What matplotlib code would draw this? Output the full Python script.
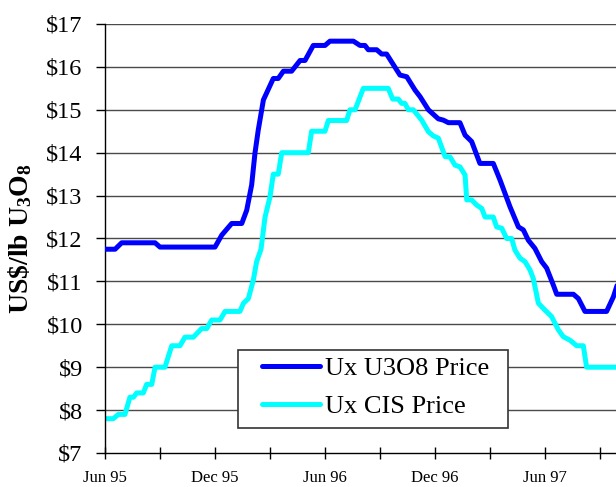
import matplotlib
matplotlib.use("Agg")
import matplotlib.pyplot as plt
from matplotlib.patches import Rectangle

# Months since June 1995
u3o8_months = [0.0, 0.55, 0.91, 2.73, 3.0, 6.0, 6.37, 6.91, 7.46, 7.73, 8.0, 8.18, 8.36, 8.64,
               9.18, 9.45, 9.73, 10.18, 10.64, 10.91, 11.36, 12.0, 12.27, 13.55, 13.91, 14.18,
               14.36, 14.82, 15.09, 15.36, 15.91, 16.09, 16.46, 16.91, 17.18, 17.64, 18.18,
               18.45, 18.73, 19.36, 19.64, 20.0, 20.45, 21.18, 21.55, 22.09, 22.55, 22.82,
               23.09, 23.45, 23.82, 24.09, 24.45, 24.64, 25.55, 25.82, 26.18, 27.36, 27.73, 28.0]
u3o8_price = [11.75, 11.75, 11.9, 11.9, 11.8, 11.8, 12.08, 12.35, 12.35, 12.66, 13.25, 13.99,
              14.53, 15.23, 15.73, 15.73, 15.9, 15.9, 16.15, 16.15, 16.5, 16.5, 16.6, 16.6,
              16.5, 16.5, 16.4, 16.4, 16.3, 16.3, 15.93, 15.81, 15.77, 15.46, 15.31, 15.0,
              14.79, 14.76, 14.7, 14.7, 14.41, 14.26, 13.75, 13.75, 13.36, 12.74, 12.27, 12.2,
              11.96, 11.77, 11.46, 11.31, 10.92, 10.7, 10.7, 10.6, 10.3, 10.3, 10.64, 11.0]

cis_months = [0.0, 0.45, 0.73, 1.09, 1.36, 1.55, 1.73, 2.09, 2.27, 2.55, 2.73, 3.27, 3.64,
              4.09, 4.36, 4.82, 5.27, 5.55, 5.82, 6.27, 6.55, 7.36, 7.55, 7.82, 8.09, 8.27,
              8.51, 8.73, 9.0, 9.18, 9.45, 9.64, 11.09, 11.27, 12.0, 12.18, 13.18, 13.36,
              13.64, 14.09, 15.45, 15.69, 16.0, 16.18, 16.36, 16.55, 16.82, 17.27, 17.64,
              17.91, 18.18, 18.55, 18.82, 19.09, 19.36, 19.64, 19.73, 20.0, 20.27, 20.55,
              20.73, 21.18, 21.36, 21.64, 21.91, 22.18, 22.36, 22.64, 22.91, 23.18, 23.36,
              23.64, 24.0, 24.36, 24.73, 25.0, 25.36, 25.73, 26.09, 26.27, 28.0]
cis_price = [7.8, 7.8, 7.9, 7.9, 8.3, 8.3, 8.4, 8.4, 8.6, 8.6, 9.0, 9.0, 9.5, 9.5, 9.7, 9.7,
             9.9, 9.9, 10.1, 10.1, 10.3, 10.3, 10.49, 10.6, 11.03, 11.46, 11.75, 12.5, 12.97,
             13.5, 13.5, 14.0, 14.0, 14.5, 14.5, 14.75, 14.75, 15.0, 15.0, 15.5, 15.5, 15.25,
             15.25, 15.15, 15.15, 15.0, 15.0, 14.76, 14.49, 14.39, 14.34, 13.91, 13.9, 13.71,
             13.67, 13.48, 12.9, 12.9, 12.78, 12.7, 12.5, 12.5, 12.27, 12.24, 12.0, 12.0,
             11.73, 11.54, 11.46, 11.27, 11.07, 10.49, 10.33, 10.18, 9.87, 9.71, 9.63, 9.5,
             9.5, 9.0, 9.0]

series_labels = ["Ux U3O8 Price", "Ux CIS Price"]
x_tick_months = [0, 3, 6, 9, 12, 15, 18, 21, 24, 27]
x_tick_labels = ["Jun 95", "", "Dec 95", "", "Jun 96", "", "Dec 96", "", "Jun 97", ""]
y_ticks = [7, 8, 9, 10, 11, 12, 13, 14, 15, 16, 17]

plt.rcParams['font.family'] = ['Liberation Serif', 'DejaVu Serif']
plt.rcParams['mathtext.fontset'] = 'custom'
plt.rcParams['mathtext.rm'] = 'Liberation Serif:bold'
plt.rcParams['mathtext.it'] = 'Liberation Serif:bold'
plt.rcParams['mathtext.bf'] = 'Liberation Serif:bold'
plt.rcParams['mathtext.default'] = 'regular'

W, H = 616, 487
fig = plt.figure(figsize=(W / 100, H / 100), dpi=100)
ax = fig.add_axes([105 / W, 1 - 453 / H, (W - 105) / W, (453 - 24) / H])

for yv in y_ticks[1:]:
    ax.axhline(yv, color='#4a4a4a', lw=1.0, zorder=1)

l1, = ax.plot(u3o8_months, u3o8_price, color='#0000ff', lw=3.6, solid_joinstyle='round',
              solid_capstyle='round', zorder=3)
l2, = ax.plot(cis_months, cis_price, color='#00ffff', lw=3.6, solid_joinstyle='round',
              solid_capstyle='round', zorder=2)

ax.set_xlim(0, (W - 105) / (55 / 3))
ax.set_ylim(7, 17)
ax.set_yticks(y_ticks)
ax.set_yticklabels([f"${v}" for v in y_ticks])
ax.set_xticks(x_tick_months)
ax.set_xticklabels(x_tick_labels)

for s in ['top', 'right']:
    ax.spines[s].set_visible(False)
ax.spines['left'].set_color('black')
ax.spines['bottom'].set_color('black')
ax.spines['left'].set_linewidth(1.0)
ax.spines['bottom'].set_linewidth(1.0)

ax.tick_params(axis='y', direction='out', length=6.5, width=1, labelsize=17.5, pad=9.5)
ax.tick_params(axis='x', direction='inout', length=8, width=1, labelsize=12, pad=8.5)

ax.set_ylabel(r"US\$/lb U$_3$O$_8$", fontsize=20, fontweight='bold')
ax.yaxis.set_label_coords((34 - 105) / (W - 105), 0.5)

fig.patches.append(Rectangle((238 / W, 1 - 428 / H), (508 - 238) / W, (428 - 350) / H,
                             transform=fig.transFigure, facecolor='white',
                             edgecolor='#333333', lw=1.2, zorder=5))
leg = fig.legend([l1, l2], series_labels, loc='upper left',
                 bbox_to_anchor=(258 / W, 1 - 353 / H), frameon=False,
                 fontsize=19, handlelength=2.2, handletextpad=0.2,
                 labelspacing=0.55, borderpad=0.15, borderaxespad=0)
leg.set_zorder(6)

fig.savefig("out.png", dpi=100)
